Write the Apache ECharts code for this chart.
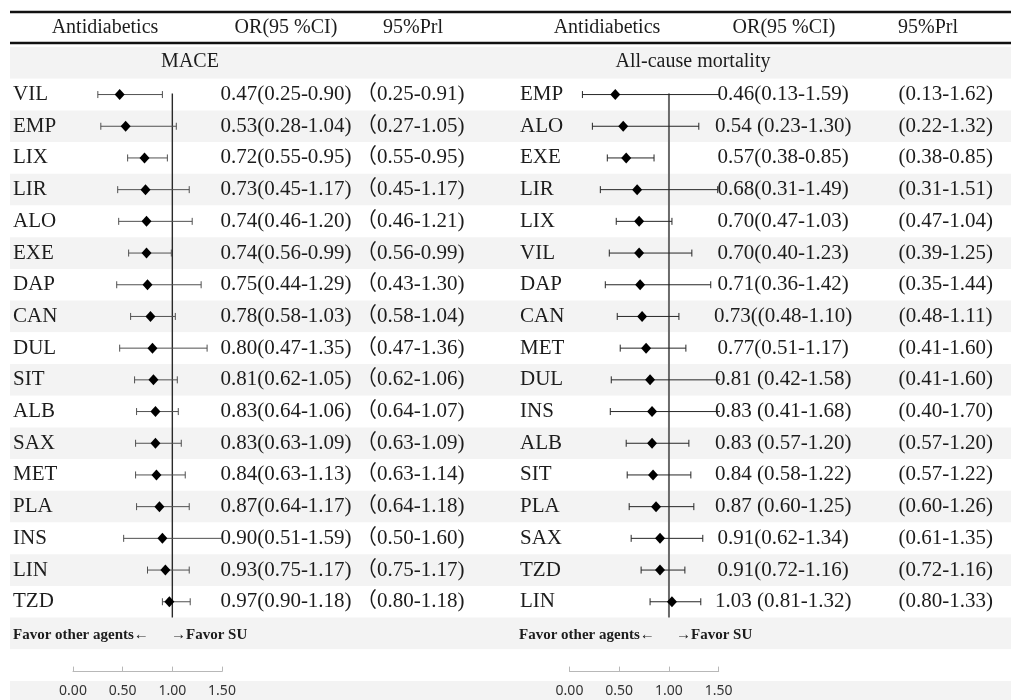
<!DOCTYPE html>
<html>
<head>
<meta charset="utf-8">
<title>Forest plot: MACE and all-cause mortality</title>
<script src="https://cdn.jsdelivr.net/npm/echarts@6/dist/echarts.min.js"></script>
<style>
  html, body { margin: 0; padding: 0; background: #ffffff; }
  #chart { width: 1011px; height: 700px; }
</style>
</head>
<body>
<div id="chart"></div>
<script>
// ---- MACE panel ----
const drugsMace = ['VIL', 'EMP', 'LIX', 'LIR', 'ALO', 'EXE', 'DAP', 'CAN', 'DUL', 'SIT', 'ALB', 'SAX', 'MET', 'PLA', 'INS', 'LIN', 'TZD'];
const orMace = [0.47, 0.53, 0.72, 0.73, 0.74, 0.74, 0.75, 0.78, 0.80, 0.81, 0.83, 0.83, 0.84, 0.87, 0.90, 0.93, 0.97];
const loMace = [0.25, 0.28, 0.55, 0.45, 0.46, 0.56, 0.44, 0.58, 0.47, 0.62, 0.64, 0.63, 0.63, 0.64, 0.51, 0.75, 0.90];
const hiMace = [0.90, 1.04, 0.95, 1.17, 1.20, 0.99, 1.29, 1.03, 1.35, 1.05, 1.06, 1.09, 1.13, 1.17, 1.59, 1.17, 1.18];
const ciTextMace = ['0.47(0.25-0.90)', '0.53(0.28-1.04)', '0.72(0.55-0.95)', '0.73(0.45-1.17)', '0.74(0.46-1.20)', '0.74(0.56-0.99)', '0.75(0.44-1.29)', '0.78(0.58-1.03)', '0.80(0.47-1.35)', '0.81(0.62-1.05)', '0.83(0.64-1.06)', '0.83(0.63-1.09)', '0.84(0.63-1.13)', '0.87(0.64-1.17)', '0.90(0.51-1.59)', '0.93(0.75-1.17)', '0.97(0.90-1.18)'];
const priTextMace = ['（0.25-0.91)', '（0.27-1.05)', '（0.55-0.95)', '（0.45-1.17)', '（0.46-1.21)', '（0.56-0.99)', '（0.43-1.30)', '（0.58-1.04)', '（0.47-1.36)', '（0.62-1.06)', '（0.64-1.07)', '（0.63-1.09)', '（0.63-1.14)', '（0.64-1.18)', '（0.50-1.60)', '（0.75-1.17)', '（0.80-1.18)'];

// ---- All-cause mortality panel ----
const drugsAll = ['EMP', 'ALO', 'EXE', 'LIR', 'LIX', 'VIL', 'DAP', 'CAN', 'MET', 'DUL', 'INS', 'ALB', 'SIT', 'PLA', 'SAX', 'TZD', 'LIN'];
const orAll = [0.46, 0.54, 0.57, 0.68, 0.70, 0.70, 0.71, 0.73, 0.77, 0.81, 0.83, 0.83, 0.84, 0.87, 0.91, 0.91, 1.03];
const loAll = [0.13, 0.23, 0.38, 0.31, 0.47, 0.40, 0.36, 0.48, 0.51, 0.42, 0.41, 0.57, 0.58, 0.60, 0.62, 0.72, 0.81];
const hiAll = [1.59, 1.30, 0.85, 1.49, 1.03, 1.23, 1.42, 1.10, 1.17, 1.58, 1.68, 1.20, 1.22, 1.25, 1.34, 1.16, 1.32];
const ciTextAll = ['0.46(0.13-1.59)', '0.54 (0.23-1.30)', '0.57(0.38-0.85)', '0.68(0.31-1.49)', '0.70(0.47-1.03)', '0.70(0.40-1.23)', '0.71(0.36-1.42)', '0.73((0.48-1.10)', '0.77(0.51-1.17)', '0.81 (0.42-1.58)', '0.83 (0.41-1.68)', '0.83 (0.57-1.20)', '0.84 (0.58-1.22)', '0.87 (0.60-1.25)', '0.91(0.62-1.34)', '0.91(0.72-1.16)', '1.03 (0.81-1.32)'];
const priTextAll = ['(0.13-1.62)', '(0.22-1.32)', '(0.38-0.85)', '(0.31-1.51)', '(0.47-1.04)', '(0.39-1.25)', '(0.35-1.44)', '(0.48-1.11)', '(0.41-1.60)', '(0.41-1.60)', '(0.40-1.70)', '(0.57-1.20)', '(0.57-1.22)', '(0.60-1.26)', '(0.61-1.35)', '(0.72-1.16)', '(0.80-1.33)'];

// ---- shared axis / table text ----
const xTicks = [0, 0.5, 1.0, 1.5];
const refValue = 1.0;
const headers = ['Antidiabetics', 'OR(95 %CI)', '95%Prl'];
const panelTitles = ['MACE', 'All-cause mortality'];
const favorLeft = 'Favor other agents←';
const favorRight = '→Favor SU';
// table bands: title row, drug rows, favour row, axis row, tick label row
const bandRows = ['title'].concat(drugsMace, ['favor', 'axis', 'ticks']);

// ---- layout ----
const ROW_H = 31.7;
const TABLE_TOP = 47;
const PLOT_TOP = TABLE_TOP + ROW_H;
const PLOT_H = ROW_H * drugsMace.length;
const SERIF = "'Liberation Serif', 'Times New Roman', 'Noto Sans CJK SC', serif";
const FS = 21;
const HEAD_FS = 20;
const TEXT_COLOR = '#1c1c1c';
const panels = [
  { x0: 73,   w: 149,   nameMargin: 60,   ciMargin: 64,  priMargin: 134, priAlign: 'left',
    whisker: '#505050', refColor: '#2a2a2a', refWidth: 1.4,
    cols: [105, 286, 413], title: 190, favL: 13, favR: 171 },
  { x0: 569.5, w: 149.2, nameMargin: 49.5, ciMargin: 64.5, priMargin: 227, priAlign: 'center',
    whisker: '#262626', refColor: '#6a6a6a', refWidth: 2,
    cols: [607, 784, 928], title: 693, favL: 519, favR: 676 }
];

const chart = echarts.init(document.getElementById('chart'), null, { renderer: 'canvas' });

const grids = [
  { left: 10, right: 0, top: TABLE_TOP, height: ROW_H * bandRows.length, outerBoundsMode: 'none', containLabel: false }
];
const xAxes = [{ gridIndex: 0, type: 'value', show: false, min: 0, max: 1 }];
const yAxes = [{
  gridIndex: 0, type: 'category', data: bandRows, inverse: true,
  axisLine: { show: false }, axisTick: { show: false }, axisLabel: { show: false },
  splitLine: { show: false },
  splitArea: { show: true, interval: 0, areaStyle: { color: ['#f3f3f3', '#ffffff'] } }
}];
const series = [];

const sets = [
  { drugs: drugsMace, or: orMace, lo: loMace, hi: hiMace, ci: ciTextMace, pri: priTextMace },
  { drugs: drugsAll, or: orAll, lo: loAll, hi: hiAll, ci: ciTextAll, pri: priTextAll }
];

sets.forEach(function (set, p) {
  const cfg = panels[p];
  const gi = grids.length;
  grids.push({ left: cfg.x0, width: cfg.w, top: PLOT_TOP, height: PLOT_H, outerBoundsMode: 'none', containLabel: false });
  const xi = xAxes.length;
  xAxes.push({
    gridIndex: gi, type: 'value', min: xTicks[0], max: xTicks[xTicks.length - 1], interval: 0.5,
    position: 'bottom', offset: 54,
    axisLine: { show: true, lineStyle: { color: '#b8b8b8', width: 1 } },
    axisTick: { show: true, inside: true, length: 5, lineStyle: { color: '#b8b8b8' } },
    axisLabel: { margin: 12, fontFamily: "'Noto Sans', 'DejaVu Sans', sans-serif", fontSize: 14, color: '#333333',
      formatter: function (v) { return v.toFixed(2); } },
    splitLine: { show: false }
  });
  const baseY = {
    gridIndex: gi, type: 'category', inverse: true,
    axisLine: { show: false }, axisTick: { show: false }, splitLine: { show: false }
  };
  const yName = yAxes.length;
  yAxes.push(Object.assign({}, baseY, {
    position: 'left', data: set.drugs,
    axisLabel: { align: 'left', margin: cfg.nameMargin, fontFamily: SERIF, fontSize: FS, color: TEXT_COLOR }
  }));
  yAxes.push(Object.assign({}, baseY, {
    position: 'right', data: set.ci,
    axisLabel: { align: 'center', margin: cfg.ciMargin, fontFamily: SERIF, fontSize: FS, color: TEXT_COLOR }
  }));
  yAxes.push(Object.assign({}, baseY, {
    position: 'right', data: set.pri,
    axisLabel: { align: cfg.priAlign, margin: cfg.priMargin, fontFamily: SERIF, fontSize: FS, color: TEXT_COLOR }
  }));

  // reference line at OR = 1
  series.push({
    type: 'custom', xAxisIndex: xi, yAxisIndex: yName, z: 3, silent: true,
    data: [[refValue]],
    renderItem: function (params, api) {
      const top = api.coord([api.value(0), 0]);
      const bottom = api.coord([api.value(0), set.drugs.length - 1]);
      const band = api.size([0, 1])[1];
      return {
        type: 'line',
        shape: { x1: top[0], y1: top[1] - 1, x2: bottom[0], y2: bottom[1] + band / 2 },
        style: { stroke: cfg.refColor, lineWidth: cfg.refWidth }
      };
    }
  });

  // whiskers with end caps and diamond point estimates
  series.push({
    type: 'custom', xAxisIndex: xi, yAxisIndex: yName, z: 4, clip: true, silent: true,
    encode: { x: [0, 1, 2], y: 3 },
    data: set.or.map(function (v, i) { return [v, set.lo[i], set.hi[i], i]; }),
    renderItem: function (params, api) {
      const row = api.value(3);
      const pm = api.coord([api.value(0), row]);
      const pl = api.coord([api.value(1), row]);
      const ph = api.coord([api.value(2), row]);
      const cap = 3.5, dw = 5, dh = 5.5;
      const stroke = { stroke: cfg.whisker, lineWidth: 1 };
      return {
        type: 'group',
        children: [
          { type: 'line', shape: { x1: pl[0], y1: pl[1], x2: ph[0], y2: ph[1] }, style: stroke },
          { type: 'line', shape: { x1: pl[0], y1: pl[1] - cap, x2: pl[0], y2: pl[1] + cap }, style: stroke },
          { type: 'line', shape: { x1: ph[0], y1: ph[1] - cap, x2: ph[0], y2: ph[1] + cap }, style: stroke },
          { type: 'polygon', shape: { points: [[pm[0], pm[1] - dh], [pm[0] + dw, pm[1]], [pm[0], pm[1] + dh], [pm[0] - dw, pm[1]]] },
            style: { fill: '#000000' } }
        ]
      };
    }
  });
});

// table rules, headers, titles and favour captions (drawn above the row bands)
function textEl(x, y, text, size, bold, align) {
  return {
    type: 'text', x: x, y: y, z: 100,
    style: {
      text: text,
      font: (bold ? 'bold ' : '') + size + 'px ' + SERIF,
      fill: TEXT_COLOR,
      align: align || 'left',
      verticalAlign: 'middle'
    }
  };
}
const graphics = [
  { type: 'line', z: 100, shape: { x1: 10, y1: 12, x2: 1011, y2: 12 }, style: { stroke: '#111111', lineWidth: 2.5 } },
  { type: 'line', z: 100, shape: { x1: 10, y1: 43, x2: 1011, y2: 43 }, style: { stroke: '#111111', lineWidth: 2.5 } }
];
panels.forEach(function (cfg, p) {
  headers.forEach(function (h, k) {
    graphics.push(textEl(cfg.cols[k], 28, h, HEAD_FS, false, 'center'));
  });
  graphics.push(textEl(cfg.title, 62, panelTitles[p], HEAD_FS, false, 'center'));
  graphics.push(textEl(cfg.favL, 635, favorLeft, 15, true));
  graphics.push(textEl(cfg.favR, 635, favorRight, 15, true));
});

chart.setOption({
  animation: false,
  backgroundColor: '#ffffff',
  grid: grids,
  xAxis: xAxes,
  yAxis: yAxes,
  series: series,
  graphic: { elements: graphics }
});
</script>
</body>
</html>
